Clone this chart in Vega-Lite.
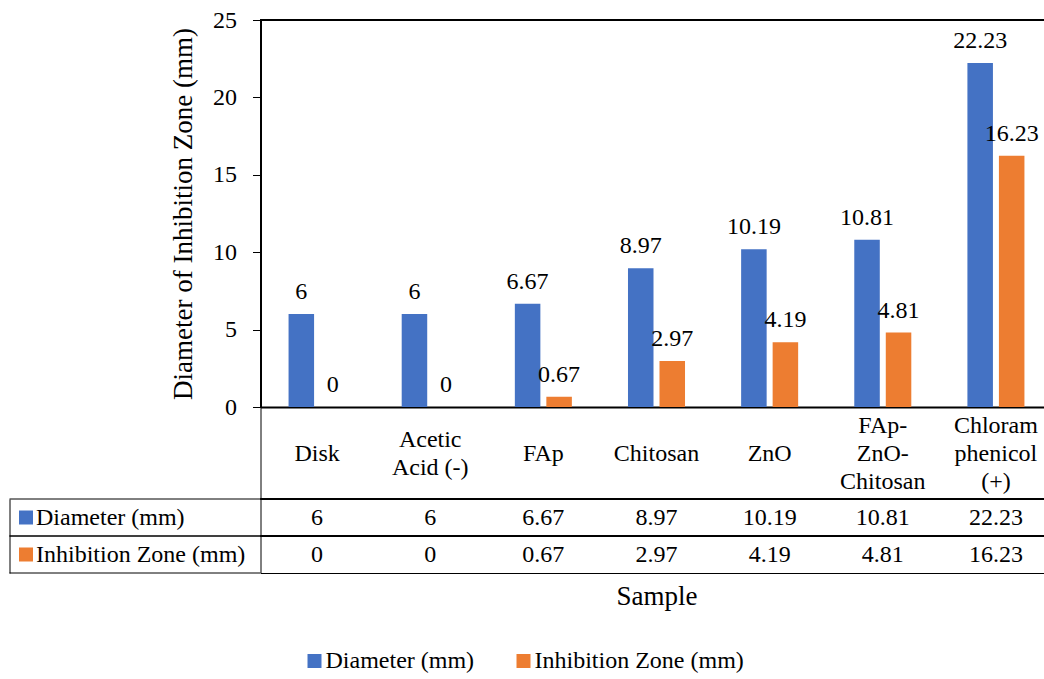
{
  "$schema": "https://vega.github.io/schema/vega-lite/v6.json",
  "background": "white",
  "padding": {"left": 2.5, "top": 8, "right": 0, "bottom": 0},
  "config": {
    "view": {"stroke": null},
    "font": "Liberation Serif",
    "axis": {
      "labelFont": "Liberation Serif",
      "titleFont": "Liberation Serif",
      "labelColor": "black",
      "titleColor": "black",
      "domainColor": "black",
      "tickColor": "black",
      "titleFontWeight": "normal",
      "grid": false
    },
    "text": {"font": "Liberation Serif", "fontSize": 24, "color": "black"}
  },
  "datasets": {
    "zones": [
      {"Sample": "Disk", "series": "Diameter (mm)", "value": 6},
      {"Sample": "Disk", "series": "Inhibition Zone (mm)", "value": 0},
      {"Sample": "Acetic Acid (-)", "series": "Diameter (mm)", "value": 6},
      {"Sample": "Acetic Acid (-)", "series": "Inhibition Zone (mm)", "value": 0},
      {"Sample": "FAp", "series": "Diameter (mm)", "value": 6.67},
      {"Sample": "FAp", "series": "Inhibition Zone (mm)", "value": 0.67},
      {"Sample": "Chitosan", "series": "Diameter (mm)", "value": 8.97},
      {"Sample": "Chitosan", "series": "Inhibition Zone (mm)", "value": 2.97},
      {"Sample": "ZnO", "series": "Diameter (mm)", "value": 10.19},
      {"Sample": "ZnO", "series": "Inhibition Zone (mm)", "value": 4.19},
      {"Sample": "FAp-ZnO-Chitosan", "series": "Diameter (mm)", "value": 10.81},
      {"Sample": "FAp-ZnO-Chitosan", "series": "Inhibition Zone (mm)", "value": 4.81},
      {"Sample": "Chloramphenicol (+)", "series": "Diameter (mm)", "value": 22.23},
      {"Sample": "Chloramphenicol (+)", "series": "Inhibition Zone (mm)", "value": 16.23}
    ],
    "seriesNames": [
      {"series": "Diameter (mm)"},
      {"series": "Inhibition Zone (mm)"}
    ]
  },
  "columns": 2,
  "spacing": 0,
  "bounds": "flush",
  "concat": [
    {
      "width": 251,
      "height": 387,
      "data": {"values": [{}]},
      "mark": {"type": "text", "text": ""}
    },
    {
      "width": 792,
      "height": 387,
      "data": {"name": "zones"},
      "layer": [
        {
          "mark": {"type": "bar"},
          "encoding": {
            "x": {
              "field": "Sample",
              "type": "nominal",
              "sort": ["Disk", "Acetic Acid (-)", "FAp", "Chitosan", "ZnO", "FAp-ZnO-Chitosan", "Chloramphenicol (+)"],
              "scale": {"type": "band", "paddingInner": 0.496, "paddingOuter": 0.248},
              "axis": {
                "title": null,
                "orient": "bottom",
                "domainWidth": 2,
                "ticks": false,
                "labelAngle": 0,
                "labelPadding": {
                  "condition": [
                    {"test": "datum.value == 'Acetic Acid (-)'", "value": 32},
                    {"test": "datum.value == 'FAp-ZnO-Chitosan' || datum.value == 'Chloramphenicol (+)'", "value": 18}
                  ],
                  "value": 46
                },
                "labelBaseline": "middle",
                "labelFontSize": 24,
                "labelLineHeight": 28,
                "labelLimit": 300,
                "labelOverlap": false,
                "labelExpr": "datum.value == 'Acetic Acid (-)' ? ['Acetic', 'Acid (-)'] : datum.value == 'FAp-ZnO-Chitosan' ? ['FAp-', 'ZnO-', 'Chitosan'] : datum.value == 'Chloramphenicol (+)' ? ['Chloram', 'phenicol', '(+)'] : datum.label"
              }
            },
            "xOffset": {
              "field": "series",
              "type": "nominal",
              "sort": ["Diameter (mm)", "Inhibition Zone (mm)"],
              "scale": {"paddingInner": 0.19, "paddingOuter": 0}
            },
            "y": {
              "field": "value",
              "type": "quantitative",
              "scale": {"domain": [0, 25], "nice": false},
              "axis": {
                "title": "Diameter of Inhibition Zone (mm)",
                "values": [0, 5, 10, 15, 20, 25],
                "domainWidth": 2,
                "tickSize": 8,
                "tickWidth": 1,
                "labelPadding": 16,
                "labelFontSize": 24,
                "titleFontSize": 27,
                "titlePadding": 15
              }
            },
            "color": {
              "field": "series",
              "type": "nominal",
              "scale": {"domain": ["Diameter (mm)", "Inhibition Zone (mm)"], "range": ["#4472C4", "#ED7D31"]},
              "legend": {
                "title": null,
                "orient": "none",
                "legendX": 293,
                "legendY": 629,
                "direction": "horizontal",
                "symbolType": "square",
                "symbolSize": 196,
                "symbolStrokeWidth": 0,
                "labelFont": "Liberation Serif",
                "labelFontSize": 24,
                "labelColor": "black",
                "labelOffset": -1,
                "columnPadding": 37,
                "padding": 0,
                "labelLimit": 400
              }
            }
          }
        },
        {
          "mark": {"type": "text", "font": "Liberation Serif", "fontSize": 24, "baseline": "alphabetic", "dy": -15},
          "encoding": {
            "x": {
              "field": "Sample",
              "type": "nominal",
              "sort": ["Disk", "Acetic Acid (-)", "FAp", "Chitosan", "ZnO", "FAp-ZnO-Chitosan", "Chloramphenicol (+)"]
            },
            "xOffset": {
              "field": "series",
              "type": "nominal",
              "sort": ["Diameter (mm)", "Inhibition Zone (mm)"]
            },
            "y": {"field": "value", "type": "quantitative"},
            "text": {"field": "value", "type": "quantitative"}
          }
        },
        {
          "mark": {"type": "rule", "color": "black", "strokeWidth": 2},
          "encoding": {"y": {"datum": 25}}
        }
      ]
    },
    {
      "width": 251,
      "height": 166,
      "data": {"name": "seriesNames"},
      "encoding": {
        "y": {
          "field": "series",
          "type": "nominal",
          "scale": {"type": "band", "domain": ["Diameter (mm)", "Inhibition Zone (mm)"], "range": [92, 166], "paddingInner": 0, "paddingOuter": 0},
          "axis": {
            "title": null,
            "domain": true,
            "domainWidth": 1,
            "ticks": true,
            "tickSize": -23,
            "tickWidth": 14,
            "tickCap": "butt",
            "tickDash": [0, 9, 14, 100],
            "tickColor": {"condition": {"test": "datum.value === 'Diameter (mm)'", "value": "#4472C4"}, "value": "#ED7D31"},
            "labelAlign": "left",
            "labelBaseline": "middle",
            "labelPadding": -3,
            "labelFontSize": 24,
            "labelLimit": 300
          }
        }
      },
      "layer": [
        {
          "mark": {"type": "rule", "color": "black", "strokeWidth": 1},
          "encoding": {"y": {"field": "series", "type": "nominal", "bandPosition": 0}}
        },
        {
          "mark": {"type": "rule", "color": "black", "strokeWidth": 1},
          "encoding": {"y": {"field": "series", "type": "nominal", "bandPosition": 1}}
        }
      ]
    },
    {
      "width": 792,
      "height": 166,
      "view": {"stroke": "black", "strokeWidth": 1},
      "data": {"name": "zones"},
      "layer": [
        {
          "mark": {"type": "rule", "color": "black", "strokeWidth": 1},
          "encoding": {
            "y": {
              "field": "series",
              "type": "nominal",
              "bandPosition": 0,
              "scale": {"type": "band", "domain": ["Diameter (mm)", "Inhibition Zone (mm)"], "range": [92, 166], "paddingInner": 0, "paddingOuter": 0},
              "axis": null
            }
          }
        },
        {
          "mark": {"type": "text", "font": "Liberation Serif", "fontSize": 24},
          "encoding": {
            "x": {
              "field": "Sample",
              "type": "nominal",
              "sort": ["Disk", "Acetic Acid (-)", "FAp", "Chitosan", "ZnO", "FAp-ZnO-Chitosan", "Chloramphenicol (+)"],
              "scale": {"type": "band", "paddingInner": 0, "paddingOuter": 0},
              "axis": {
                "title": "Sample",
                "orient": "bottom",
                "labels": false,
                "ticks": false,
                "domain": false,
                "titleFontSize": 27,
                "titlePadding": 10
              }
            },
            "y": {"field": "series", "type": "nominal"},
            "text": {"field": "value", "type": "quantitative"}
          }
        }
      ]
    }
  ]
}
